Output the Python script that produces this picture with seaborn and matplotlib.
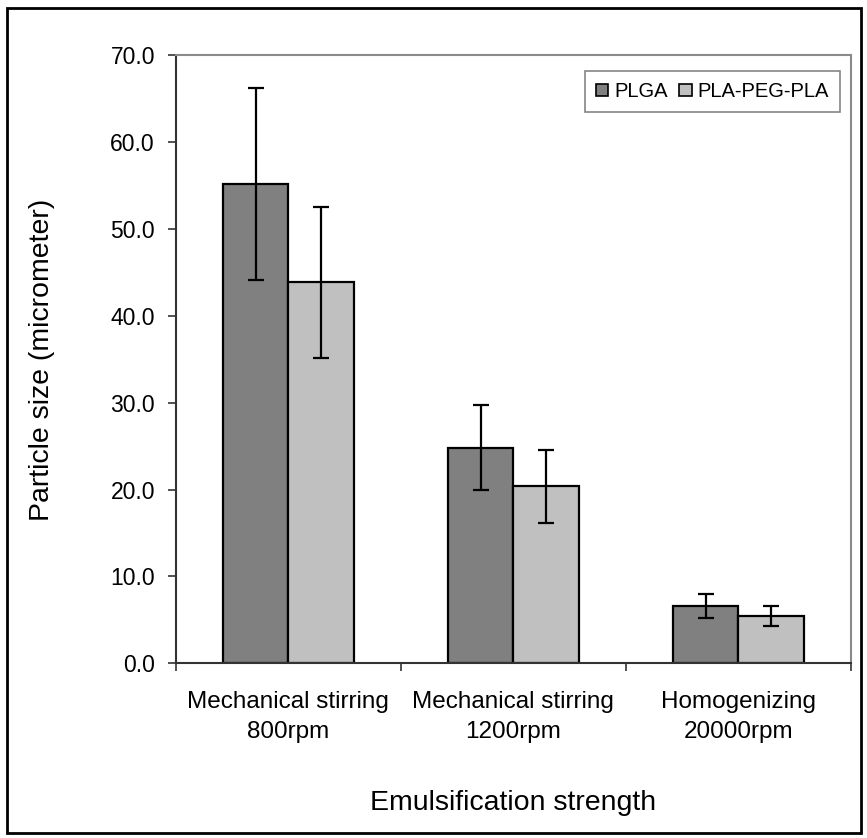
import matplotlib
matplotlib.use("Agg")
import matplotlib.pyplot as plt
from matplotlib.patches import Rectangle, Patch
from matplotlib.ticker import FixedLocator, FormatStrFormatter
import numpy as np
import pandas as pd
import seaborn as sns

# Mean particle size (micrometer) and standard deviation per emulsification method
methods = ["Mechanical stirring\n800rpm", "Mechanical stirring\n1200rpm", "Homogenizing\n20000rpm"]
polymers = ["PLGA", "PLA-PEG-PLA"]
plga_mean = [55.2, 24.8, 6.6]
plga_sd = [11.1, 4.9, 1.4]
pla_mean = [43.9, 20.4, 5.5]
pla_sd = [8.7, 4.2, 1.15]
yticks = [0, 10, 20, 30, 40, 50, 60, 70]
bar_colors = ["#808080", "#C0C0C0"]

sns.set_theme(style="white")
plt.rcParams["font.family"] = ["Liberation Sans", "DejaVu Sans"]
plt.rcParams["text.color"] = "black"
plt.rcParams["axes.labelcolor"] = "black"

df = pd.DataFrame({
    "method": methods * 2,
    "polymer": [polymers[0]] * 3 + [polymers[1]] * 3,
    "size": plga_mean + pla_mean,
    "sd": plga_sd + pla_sd,
})

fig = plt.figure(figsize=(8.67, 8.38), dpi=100)
ax = fig.add_axes([0.2027, 0.2085, 0.7789, 0.7253])

sns.barplot(data=df, x="method", y="size", hue="polymer", order=methods,
            hue_order=polymers, palette=bar_colors, width=0.58, gap=0,
            errorbar=None, edgecolor="black", linewidth=1.6, saturation=1,
            legend=False, ax=ax)

# error bars centred on each drawn bar
bars = [p for p in ax.patches if isinstance(p, Rectangle)]
for p in bars:
    xc = p.get_x() + p.get_width() / 2
    h = p.get_height()
    row = df[np.isclose(df["size"], h)].iloc[0]
    ax.errorbar(xc, h, yerr=row["sd"], fmt="none", ecolor="black",
                elinewidth=1.6, capsize=5.5, capthick=1.6, zorder=5)

ax.set_xlim(-0.5, 2.5)
ax.set_ylim(0, 70)
ax.yaxis.set_major_locator(FixedLocator(yticks))
ax.yaxis.set_major_formatter(FormatStrFormatter("%.1f"))
ax.tick_params(axis="y", direction="out", length=6, width=1.2, color="#333333",
               labelcolor="black", labelsize=16.5, pad=9, left=True)
ax.tick_params(axis="x", which="major", length=0, labelsize=17.5, pad=20,
               labelcolor="black")
ax.xaxis.set_minor_locator(FixedLocator([-0.5, 0.5, 1.5, 2.5]))
ax.tick_params(axis="x", which="minor", direction="out", length=6, width=1.2,
               color="#333333", bottom=True)
for lbl in ax.get_xticklabels():
    lbl.set_linespacing(1.45)

for side in ["left", "bottom"]:
    ax.spines[side].set_color("#333333")
    ax.spines[side].set_linewidth(1.5)
for side in ["top", "right"]:
    ax.spines[side].set_color("#8a8a8a")
    ax.spines[side].set_linewidth(1.5)

ax.set_xlabel("Emulsification strength", fontsize=20.5, labelpad=34, color="black")
ax.set_ylabel("Particle size (micrometer)", fontsize=20.5, labelpad=40, color="black")

handles = [Patch(facecolor=c, edgecolor="black", linewidth=1.2) for c in bar_colors]
leg = ax.legend(handles, polymers, loc="upper right", bbox_to_anchor=(0.9837, 0.9745),
                borderaxespad=0, ncol=2, fontsize=14.5, frameon=True, fancybox=False,
                handlelength=0.6, handleheight=0.6, handletextpad=0.3,
                columnspacing=0.6, borderpad=0.55)
leg.get_frame().set_edgecolor("#666666")
leg.get_frame().set_linewidth(1.2)
for t in leg.get_texts():
    t.set_color("black")

# outer chart border
fig.patches.append(Rectangle((7 / 867, 5 / 838), 854 / 867, 825 / 838,
                             transform=fig.transFigure, fill=False,
                             edgecolor="black", linewidth=2))

fig.savefig("out.png", dpi=100)
